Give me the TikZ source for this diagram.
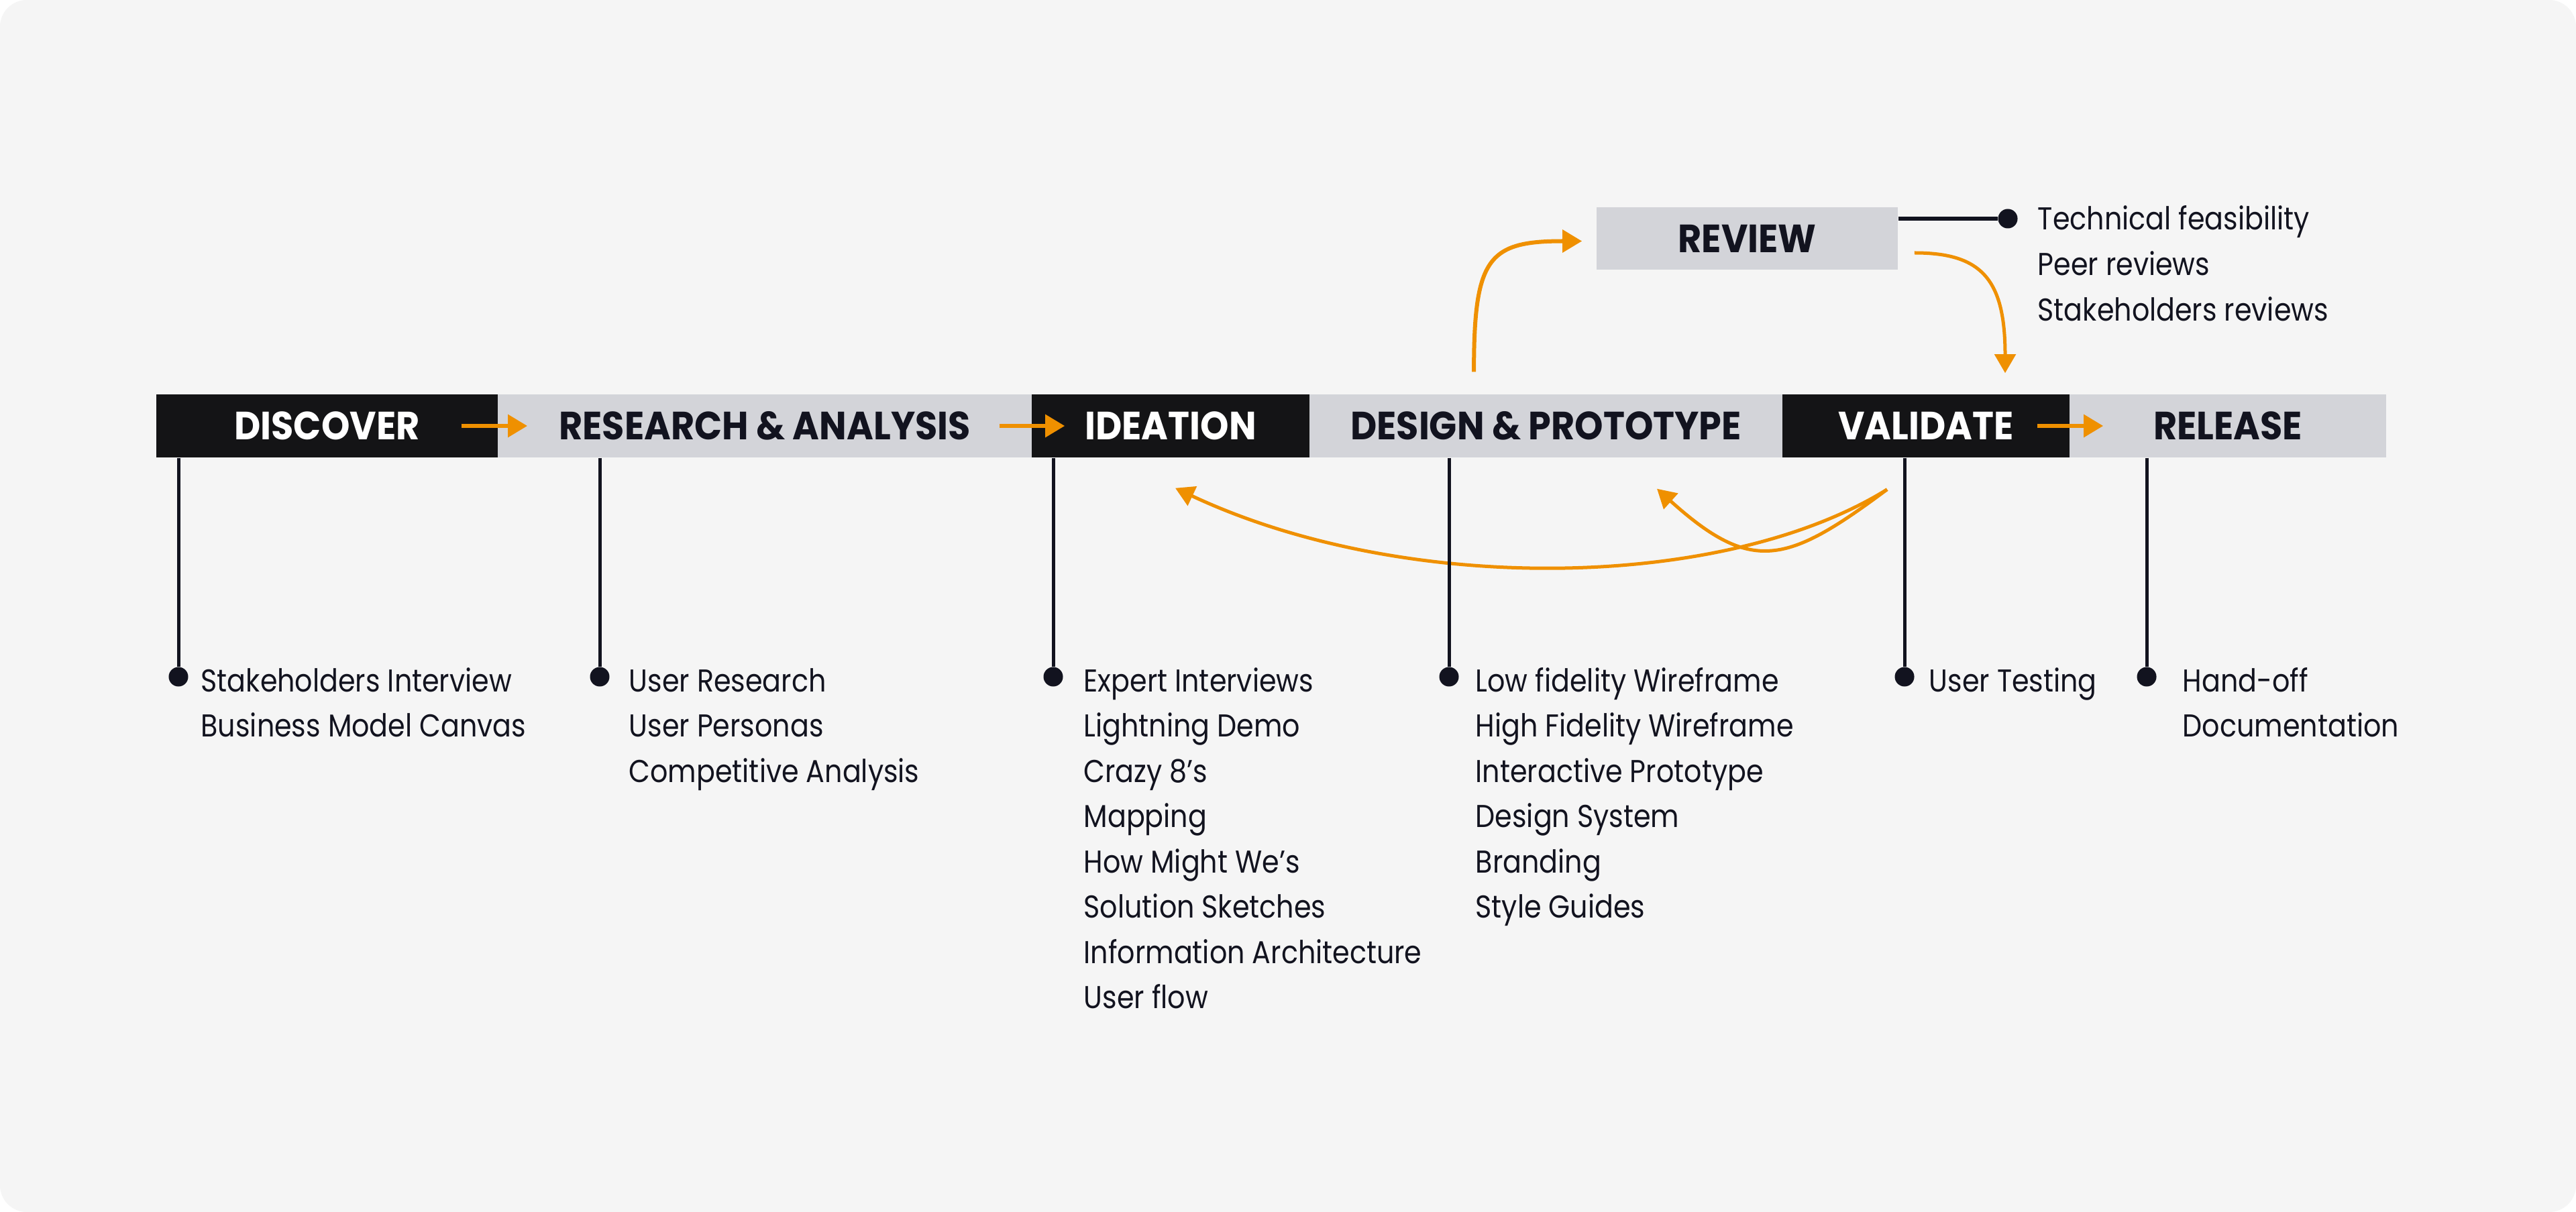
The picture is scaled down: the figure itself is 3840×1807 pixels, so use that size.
\documentclass[tikz,border=0pt]{standalone}
\usepackage{fontspec}
\setmainfont{Poppins}
\newfontfamily\itemfont[FakeStretch=0.875]{Poppins}
\newfontfamily\phasefont[FakeStretch=0.92]{Poppins}
\usetikzlibrary{arrows.meta,calc}
\definecolor{canvas}{HTML}{F5F5F5}
\definecolor{ink}{HTML}{12131F}
\definecolor{phasedark}{HTML}{141416}
\definecolor{phaselight}{HTML}{D3D4D9}
\definecolor{flow}{HTML}{EF9000}

\begin{document}
\begin{tikzpicture}[x=0.01cm,y=-0.01cm,
  phase/.style={rectangle, inner sep=0pt, minimum height=0.94cm,
    text height=0.41cm, text depth=0pt,
    font=\phasefont\bfseries\fontsize{16.7pt}{20pt}\selectfont},
  darkphase/.style={phase, fill=phasedark, text=white},
  lightphase/.style={phase, fill=phaselight, text=ink},
  pin/.style={circle, fill=ink, inner sep=0pt, minimum size=0.29cm},
  stem/.style={draw=ink, line width=0.05cm},
  item/.style={anchor=base west, inner sep=0pt, text=ink,
    font=\itemfont\fontsize{13.4pt}{16pt}\selectfont},
  flowarrow/.style={draw=flow, line width=0.06cm,
    -{Triangle[length=0.29cm,width=0.33cm]}},
  loopback/.style={draw=flow, line width=0.05cm,
    -{Triangle[length=0.28cm,width=0.31cm]}},
]
\useasboundingbox (0,0) rectangle (3840,1807);
\fill[white] (0,0) rectangle (3840,1807);
\fill[canvas, rounded corners=0.4cm] (0,0) rectangle (3840,1807);

% phase bar
\node[darkphase,  minimum width=5.09cm] (discover) at (487.5,635) {DISCOVER};
\node[lightphase, minimum width=7.96cm] (research) at (1140,635) {RESEARCH \& ANALYSIS};
\node[darkphase,  minimum width=4.14cm] (ideation) at (1745,635) {IDEATION};
\node[lightphase, minimum width=7.05cm] (design)   at (2304.5,635) {DESIGN \& PROTOTYPE};
\node[darkphase,  minimum width=4.28cm] (validate) at (2871,635) {VALIDATE};
\node[lightphase, minimum width=4.72cm] (release)  at (3321,635) {RELEASE};
\node[lightphase, minimum width=4.49cm, minimum height=0.93cm] (review) at (2604.5,355.5) {REVIEW};

% forward arrows along the bar
\draw[flowarrow] ($(discover.east)+(-55,0)$) -- ($(research.west)+(45,0)$);
\draw[flowarrow] ($(research.east)+(-49,0)$) -- ($(ideation.west)+(50,0)$);
\draw[flowarrow] ($(validate.east)+(-49,0)$) -- ($(release.west)+(51,0)$);

% review loop
\draw[flowarrow] ($(design.north west)+(246,-33)$) .. controls +(0,-170) and +(-140,0) .. ($(review.west)+(-21,4)$);
\draw[loopback] ($(review.east)+(24,21.5)$) .. controls +(100,0) and +(0,-140) .. ($(validate.north)+(118,-31)$);

% iteration loops back from validation
\coordinate (loopstart) at ($(validate.south)+(-58,47)$);
\draw[loopback] (loopstart) .. controls +(-243,151) and +(343,161) .. ($(ideation.south)+(7,45)$);
\draw[loopback] (loopstart) .. controls +(-150,112) and +(141,127) .. ($(design.south)+(165.5,46)$);

% pins
\node[pin] (d1) at (266,1009) {};
\node[pin] (d2) at (894,1009) {};
\node[pin] (d3) at (1570,1009) {};
\node[pin] (d4) at (2160,1009) {};
\node[pin] (d5) at (2839,1009) {};
\node[pin] (d6) at (3200,1009) {};
\node[pin] (dr) at (2993,326) {};

\draw[stem] (discover.south -| d1) -- (d1);
\draw[stem] (research.south -| d2) -- (d2);
\draw[stem] (ideation.south -| d3) -- (d3);
\draw[stem] (design.south -| d4) -- (d4);
\draw[stem] (validate.south -| d5) -- (d5);
\draw[stem] (release.south -| d6) -- (d6);
\draw[stem, line width=0.06cm] (review.east |- dr) -- (dr);

% activity lists
\foreach \t [count=\i] in {Stakeholders Interview, Business Model Canvas}
  \node[item] (c1-\i) at (299, {1031+67.5*(\i-1)}) {\t};
\foreach \t [count=\i] in {User Research, User Personas, Competitive Analysis}
  \node[item] (c2-\i) at (937, {1031+67.5*(\i-1)}) {\t};
\foreach \t [count=\i] in {Expert Interviews, Lightning Demo, Crazy 8’s, Mapping,
    How Might We’s, Solution Sketches, Information Architecture, User flow}
  \node[item] (c3-\i) at (1615, {1031+67.5*(\i-1)}) {\t};
\foreach \t [count=\i] in {Low fidelity Wireframe, High Fidelity Wireframe,
    Interactive Prototype, Design System, Branding, Style Guides}
  \node[item] (c4-\i) at (2199, {1031+67.5*(\i-1)}) {\t};
\node[item] (c5-1) at (2875,1031) {User Testing};
\foreach \t [count=\i] in {Hand-off, Documentation}
  \node[item] (c6-\i) at (3253, {1031+67.5*(\i-1)}) {\t};
\foreach \t [count=\i] in {Technical feasibility, Peer reviews, Stakeholders reviews}
  \node[item] (cr-\i) at (3037, {343+68*(\i-1)}) {\t};
\end{tikzpicture}
\end{document}
